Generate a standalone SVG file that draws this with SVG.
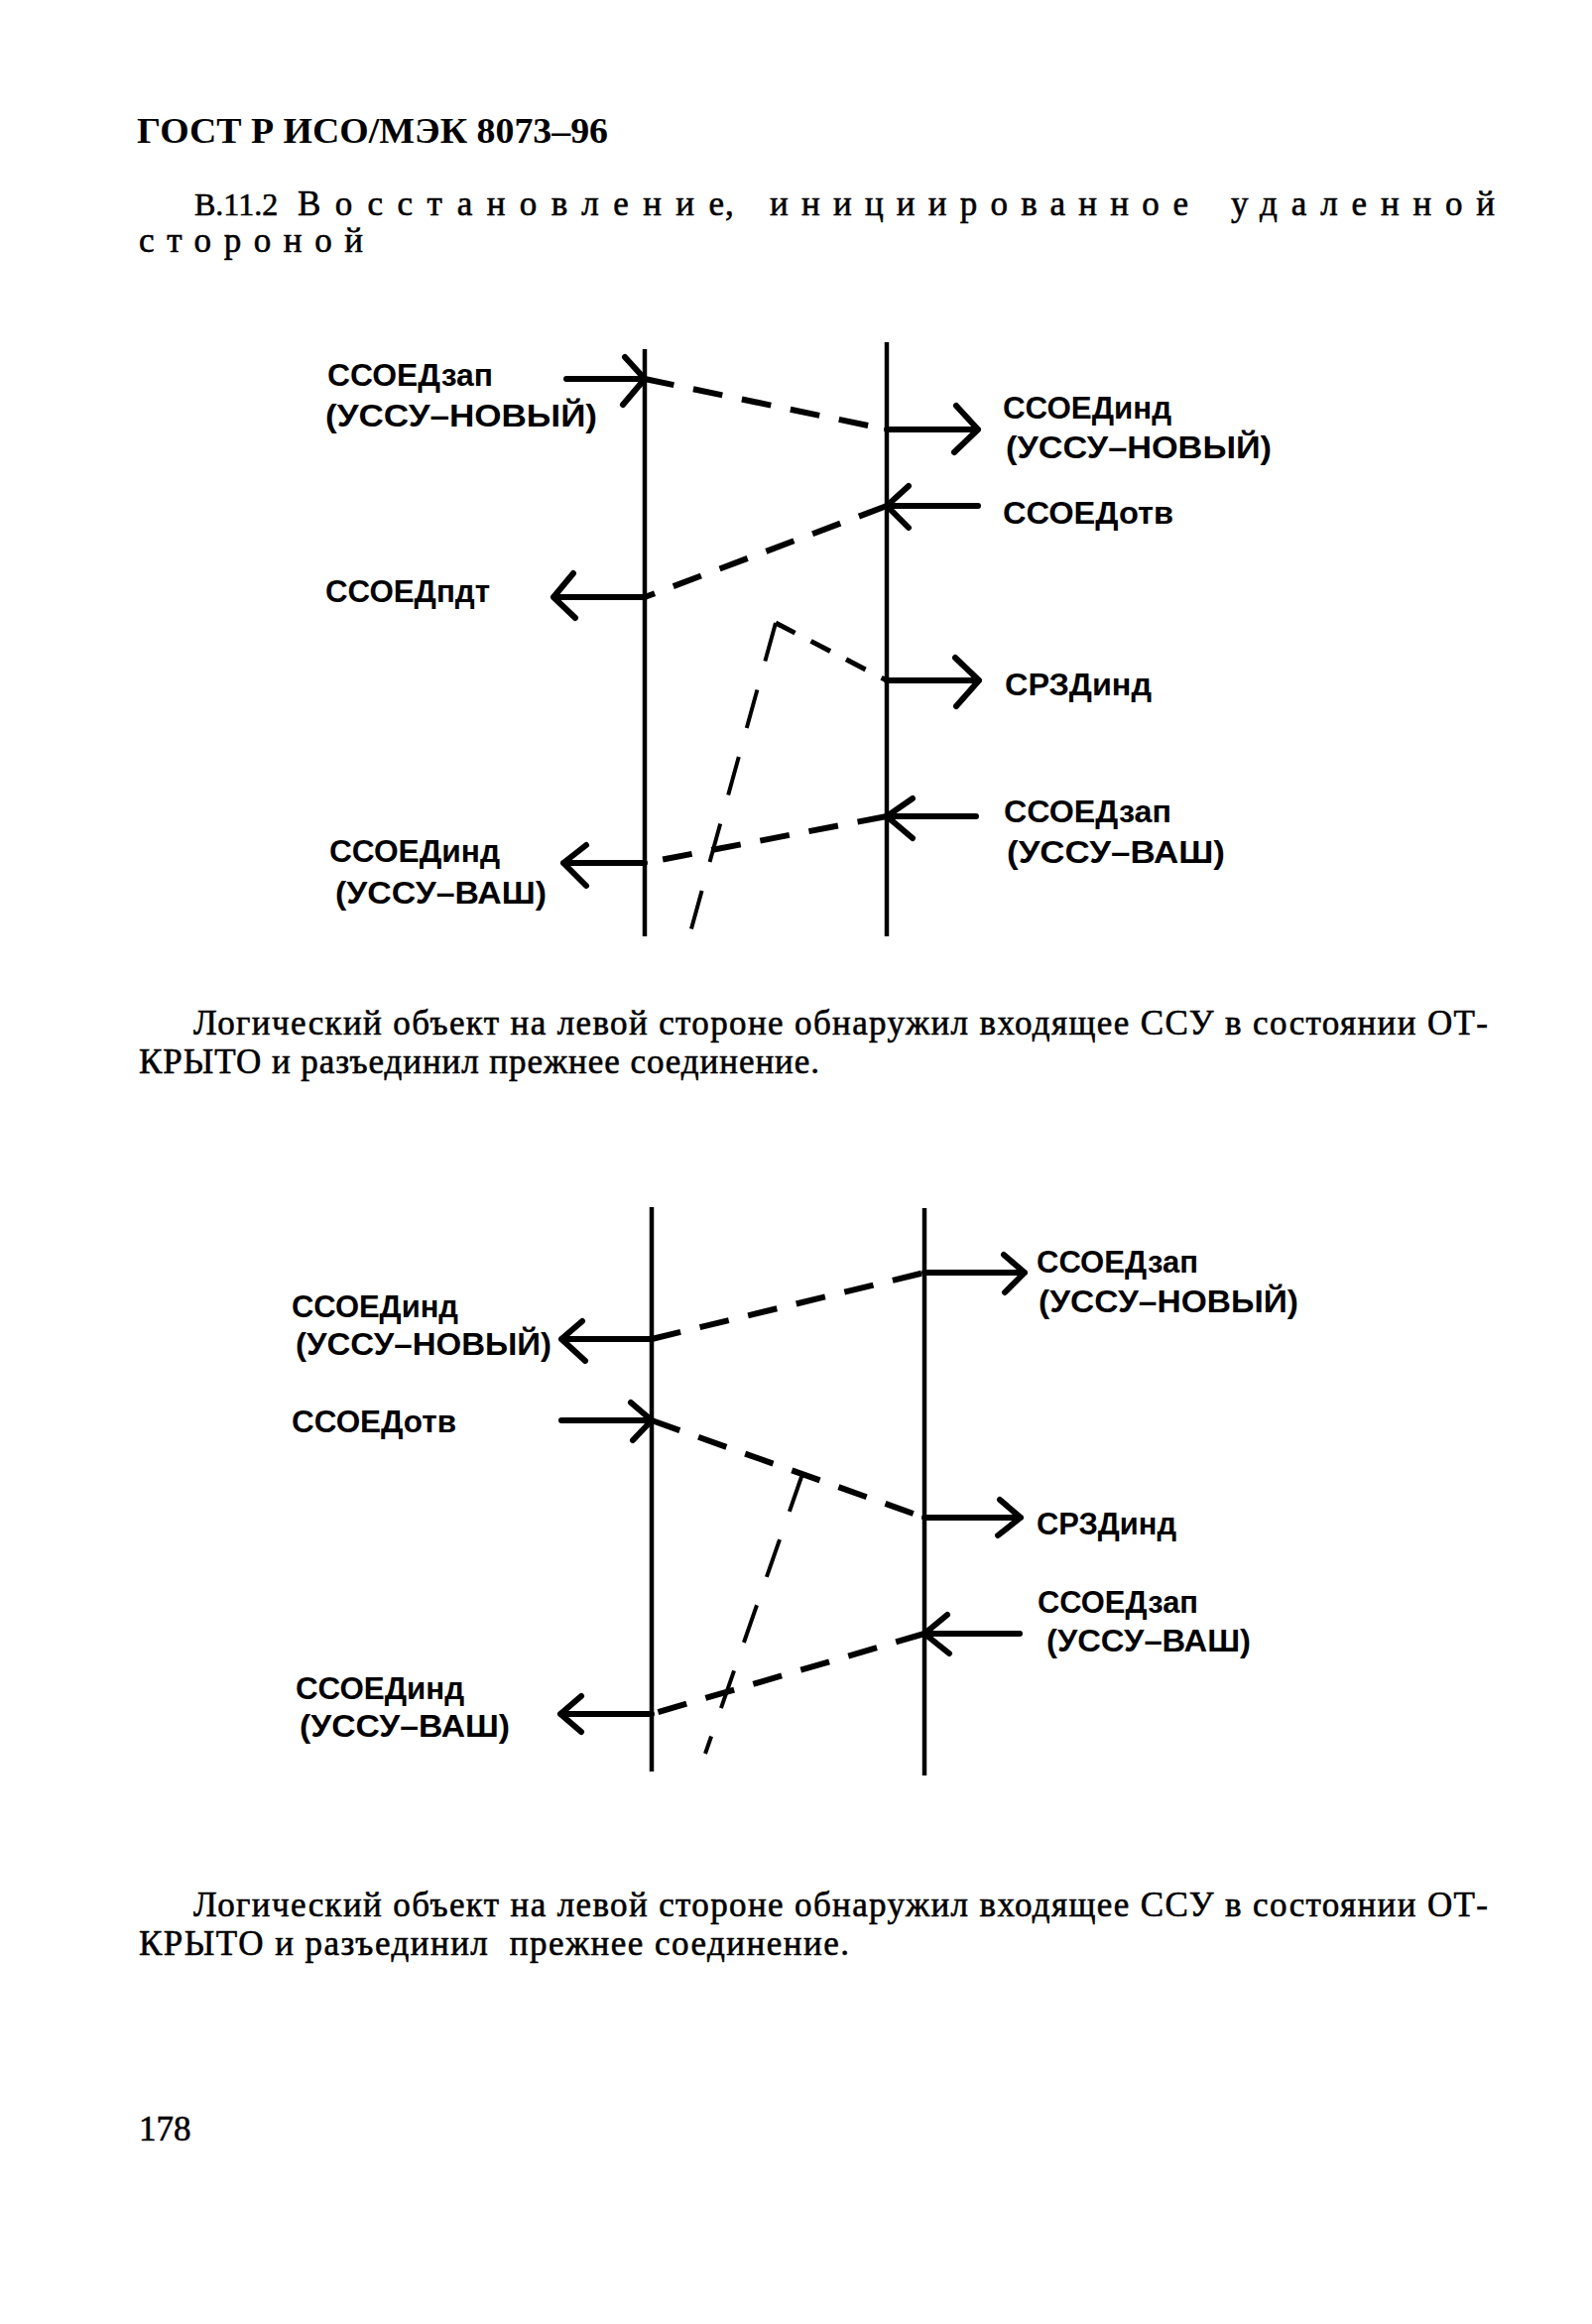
<svg xmlns="http://www.w3.org/2000/svg" width="1605" height="2343" viewBox="0 0 1605 2343">
<style>
.life{stroke:#000;stroke-width:4.5;fill:none;stroke-linecap:butt}
.shaft{stroke:#000;stroke-width:6;fill:none;stroke-linecap:round;stroke-linejoin:round}
.dash{stroke:#000;stroke-width:6;fill:none;stroke-dasharray:30 20}
.dash2{stroke:#000;stroke-width:4;fill:none;stroke-dasharray:40 30}
.lbl{font-family:'Liberation Sans',Arial,sans-serif;font-weight:bold;font-size:32px;fill:#000}
.body{font-family:'Liberation Serif','Times New Roman',serif;font-size:35px;fill:#000;stroke:#000;stroke-width:0.6}
.hdr{font-family:'Liberation Serif','Times New Roman',serif;font-weight:bold;font-size:36px;fill:#000}
</style>
<rect width="1605" height="2343" fill="#fff"/>

<g id="page-text">
<text class="hdr" x="138" y="144" textLength="475" lengthAdjust="spacingAndGlyphs">ГОСТ Р ИСО/МЭК 8073–96</text>
<text class="body" x="196" y="217" style="font-size:32px">В.11.2</text>
<text class="body" x="300" y="217" textLength="430" lengthAdjust="spacing">Восстановление</text>
<text class="body" x="731" y="217">,</text>
<text class="body" x="776" y="217" textLength="422" lengthAdjust="spacing">инициированное</text>
<text class="body" x="1241" y="217" textLength="266" lengthAdjust="spacing">удаленной</text>
<text class="body" x="140" y="254" textLength="226" lengthAdjust="spacing">стороной</text>
<text class="body" x="195" y="1043" textLength="1305" lengthAdjust="spacing">Логический объект на левой стороне обнаружил входящее ССУ в состоянии ОТ-</text>
<text class="body" x="140" y="1082" textLength="686" lengthAdjust="spacing">КРЫТО и разъединил прежнее соединение.</text>
<text class="body" x="195" y="1932" textLength="1305" lengthAdjust="spacing">Логический объект на левой стороне обнаружил входящее ССУ в состоянии ОТ-</text>
<text class="body" x="140" y="1971" textLength="716" lengthAdjust="spacing" xml:space="preserve">КРЫТО и разъединил  прежнее соединение.</text>
<text class="body" x="140" y="2158">178</text>
</g>

<!-- Diagram 1 nodes -->
<g id="d1-left-entity"><line class="life" x1="650" y1="352" x2="650" y2="944"/></g>
<g id="d1-right-entity"><line class="life" x1="894" y1="345" x2="894" y2="944"/></g>
<g id="d1-l1"><text class="lbl" x="330" y="389" textLength="167" lengthAdjust="spacingAndGlyphs">ССОЕДзап</text><text class="lbl" x="328" y="430" textLength="274" lengthAdjust="spacingAndGlyphs">(УССУ–НОВЫЙ)</text></g>
<g id="d1-r1"><text class="lbl" x="1011" y="422" textLength="170" lengthAdjust="spacingAndGlyphs">ССОЕДинд</text><text class="lbl" x="1014" y="462" textLength="268" lengthAdjust="spacingAndGlyphs">(УССУ–НОВЫЙ)</text></g>
<g id="d1-r2"><text class="lbl" x="1011" y="528" textLength="172" lengthAdjust="spacingAndGlyphs">ССОЕДотв</text></g>
<g id="d1-l2"><text class="lbl" x="328" y="607" textLength="166" lengthAdjust="spacingAndGlyphs">ССОЕДпдт</text></g>
<g id="d1-r3"><text class="lbl" x="1013" y="701" textLength="148" lengthAdjust="spacingAndGlyphs">СРЗДинд</text></g>
<g id="d1-r4"><text class="lbl" x="1012" y="829" textLength="169" lengthAdjust="spacingAndGlyphs">ССОЕДзап</text><text class="lbl" x="1015" y="870" textLength="220" lengthAdjust="spacingAndGlyphs">(УССУ–ВАШ)</text></g>
<g id="d1-l3"><text class="lbl" x="332" y="869" textLength="172" lengthAdjust="spacingAndGlyphs">ССОЕДинд</text><text class="lbl" x="338" y="911" textLength="213" lengthAdjust="spacingAndGlyphs">(УССУ–ВАШ)</text></g>

<!-- Diagram 2 nodes -->
<g id="d2-left-entity"><line class="life" x1="657" y1="1217" x2="657" y2="1786"/></g>
<g id="d2-right-entity"><line class="life" x1="932" y1="1218" x2="932" y2="1790"/></g>
<g id="d2-r1"><text class="lbl" x="1045" y="1283" textLength="163" lengthAdjust="spacingAndGlyphs">ССОЕДзап</text><text class="lbl" x="1047" y="1323" textLength="262" lengthAdjust="spacingAndGlyphs">(УССУ–НОВЫЙ)</text></g>
<g id="d2-l1"><text class="lbl" x="294" y="1328" textLength="168" lengthAdjust="spacingAndGlyphs">ССОЕДинд</text><text class="lbl" x="298" y="1366" textLength="258" lengthAdjust="spacingAndGlyphs">(УССУ–НОВЫЙ)</text></g>
<g id="d2-l2"><text class="lbl" x="294" y="1444" textLength="166" lengthAdjust="spacingAndGlyphs">ССОЕДотв</text></g>
<g id="d2-r2"><text class="lbl" x="1045" y="1547" textLength="141" lengthAdjust="spacingAndGlyphs">СРЗДинд</text></g>
<g id="d2-r3"><text class="lbl" x="1046" y="1626" textLength="162" lengthAdjust="spacingAndGlyphs">ССОЕДзап</text><text class="lbl" x="1055" y="1665" textLength="206" lengthAdjust="spacingAndGlyphs">(УССУ–ВАШ)</text></g>
<g id="d2-l3"><text class="lbl" x="298" y="1713" textLength="170" lengthAdjust="spacingAndGlyphs">ССОЕДинд</text><text class="lbl" x="302" y="1751" textLength="212" lengthAdjust="spacingAndGlyphs">(УССУ–ВАШ)</text></g>

<g id="connectors">
<!-- Diagram 1 -->
<path class="shaft" d="M571 382 H650 M630 360 L650 382 L628 408"/>
<line class="dash" x1="650" y1="382" x2="894" y2="433"/>
<path class="shaft" d="M894 433 H986 M964 409 L986 433 L962 456"/>
<path class="shaft" d="M986 510 H894 M916 490 L894 510 L916 532"/>
<line class="dash" x1="894" y1="510" x2="650" y2="602"/>
<path class="shaft" d="M650 602 H558 M578 578 L558 602 L580 623"/>
<line class="dash2" x1="782" y1="628" x2="696" y2="940"/>
<line class="dash" style="stroke-width:5;stroke-dasharray:22 18" x1="782" y1="628" x2="894" y2="686"/>
<path class="shaft" d="M894 686 H987 M963 663 L987 686 L964 712"/>
<path class="shaft" d="M984 823 H894 M920 805 L894 823 L920 845"/>
<line class="dash" x1="894" y1="823" x2="650" y2="870"/>
<path class="shaft" d="M650 870 H568 M591 852 L568 870 L591 893"/>
<!-- Diagram 2 -->
<path class="shaft" d="M932 1283 H1033 M1012 1265 L1033 1283 L1013 1303"/>
<line class="dash" x1="657" y1="1350" x2="932" y2="1283"/>
<path class="shaft" d="M657 1350 H566 M587 1332 L566 1350 L590 1372"/>
<path class="shaft" d="M566 1432 H657 M636 1414 L657 1432 L638 1452"/>
<line class="dash" x1="657" y1="1432" x2="932" y2="1530"/>
<path class="shaft" d="M932 1530 H1029 M1008 1512 L1029 1530 L1006 1548"/>
<line class="dash2" x1="809" y1="1486" x2="711" y2="1768"/>
<path class="shaft" d="M1028 1647 H932 M955 1628 L932 1647 L957 1667"/>
<line class="dash" x1="932" y1="1647" x2="657" y2="1728"/>
<path class="shaft" d="M657 1728 H565 M586 1710 L565 1728 L586 1746"/>
</g>
</svg>
